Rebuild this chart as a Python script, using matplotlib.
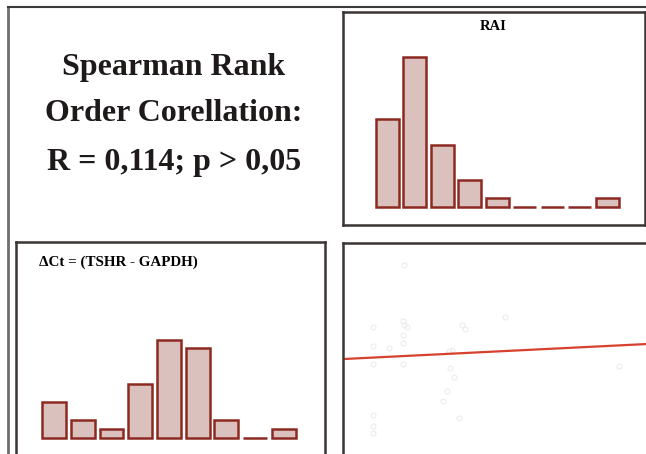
import matplotlib.pyplot as plt
from matplotlib.lines import Line2D

# --- data ---
rai_bins = list(range(9))
rai_counts = [10, 17, 7, 3, 1, 0, 0, 0, 1]

dct_bins = list(range(9))
dct_counts = [4, 2, 1, 6, 11, 10, 2, 0, 1]

# scatter panel (arbitrary units, faint points)
scatter_x = [9.9, 9.9, 9.9, 9.9, 9.9, 9.9, 15.2, 20.1, 19.8, 20.1, 21.1, 19.8, 19.8,
             19.8, 39.3, 40.3, 35.0, 36.0, 35.3, 36.6, 34.3, 33.0, 38.3, 53.5, 91.1]
scatter_y = [60.2, 51.2, 42.7, 18.5, 13.3, 10.0, 50.2, 89.6, 63.0, 61.1, 60.2, 56.4, 52.6,
             42.7, 61.1, 59.2, 48.8, 49.3, 40.8, 36.5, 29.9, 25.1, 17.1, 64.9, 41.7]
fit_intercept = 45.0
fit_slope = 0.071

stats_lines = ["Spearman Rank", "Order Corellation:", "R = 0,114; p > 0,05"]

serif = ['Liberation Serif', 'DejaVu Serif']
bar_face = '#dbc1bd'
bar_edge = '#8c2a22'
frame = '#3a3432'

W, H = 646, 454
fig = plt.figure(figsize=(W / 100, H / 100), dpi=100)


def px_axes(x0, y0, x1, y1):
    # pixel box (top-left origin) -> figure axes
    return fig.add_axes([x0 / W, 1 - y1 / H, (x1 - x0) / W, (y1 - y0) / H])


# outer frame lines
fig.add_artist(Line2D([8 / W, 8 / W], [1 - 8 / H, 0], color='#6e6e6e', lw=2))
fig.add_artist(Line2D([8 / W, 1], [1 - 7 / H, 1 - 7 / H], color='#3c3c3c', lw=1.5))

# statistics text (top-left), baselines
for line, base in zip(stats_lines, [75, 121, 170]):
    fig.text(174 / W, 1 - base / H, line, ha='center', va='baseline',
             fontsize=23, fontweight='bold', family=serif, color='#1e1a1a')

# RAI histogram (top-right)
ax1 = px_axes(343, 12, 645, 225)
ax1.bar(rai_bins, rai_counts, width=0.84, color=bar_face, edgecolor=bar_edge, lw=1.8)
ax1.set_xlim(-1.62, 9.38)
ax1.set_ylim(-2.03, 22.03)
ax1.text(0.497, 0.934, "RAI", transform=ax1.transAxes, ha='center', va='center',
         fontsize=10.5, fontweight='bold', family=serif)

# dCt histogram (bottom-left)
ax2 = px_axes(16, 242, 325, 454)
ax2.bar(dct_bins, dct_counts, width=0.83, color=bar_face, edgecolor=bar_edge, lw=1.8)
ax2.set_xlim(-1.32, 9.43)
ax2.set_ylim(-1.79, 21.9)
ax2.text(0.074, 0.906, "\u0394Ct = (TSHR - GAPDH)", transform=ax2.transAxes,
         ha='left', va='center', fontsize=10.8, fontweight='bold', family=serif)
ax2.spines['bottom'].set_visible(False)

# scatter with regression line (bottom-right)
ax3 = px_axes(343, 243, 646, 454)
ax3.plot(scatter_x, scatter_y, 'o', ms=3.5, mfc='none', mec='#ececec', mew=0.8)
xs = [0, 100]
ax3.plot(xs, [fit_intercept + fit_slope * x for x in xs], color='#d8412f', lw=1.6)
ax3.set_xlim(0, 100)
ax3.set_ylim(0, 100)
ax3.spines['bottom'].set_visible(False)
ax3.spines['right'].set_visible(False)

for ax in (ax1, ax2, ax3):
    ax.set_xticks([])
    ax.set_yticks([])
    for s in ax.spines.values():
        s.set_color(frame)
        s.set_linewidth(1.8)

fig.savefig('out.png', dpi=100)
